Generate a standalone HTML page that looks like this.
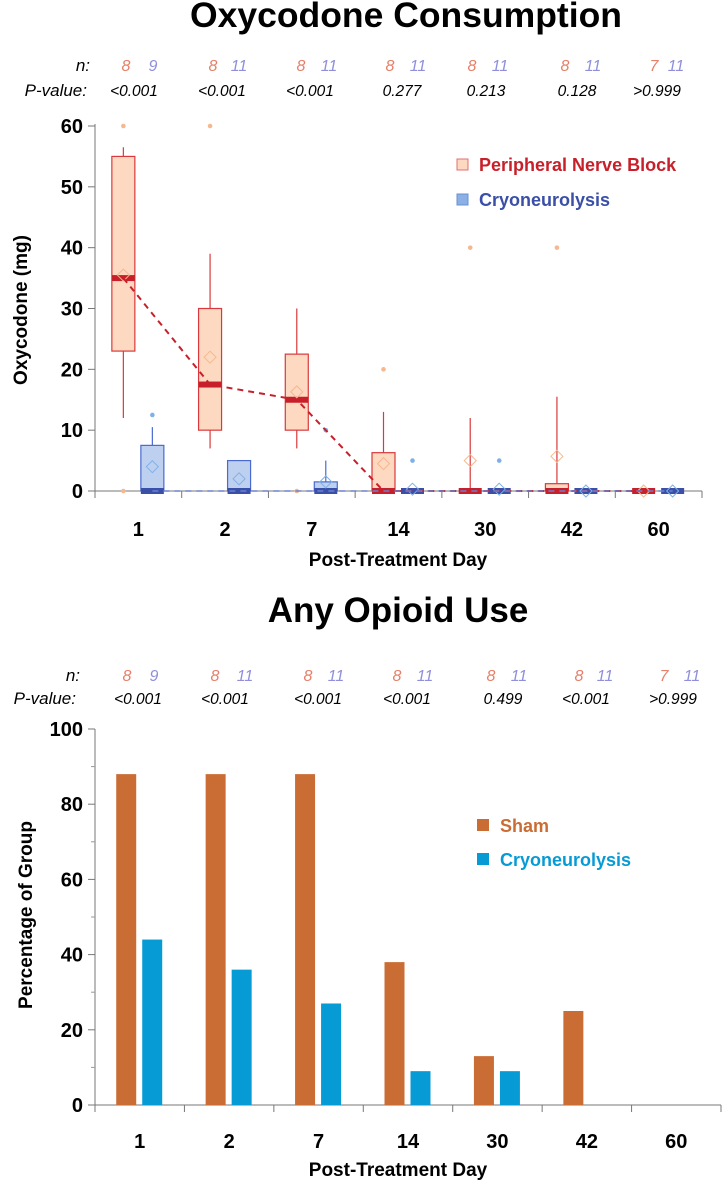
<!DOCTYPE html>
<html><head><meta charset="utf-8"><style>
body{margin:0;background:#fff;}
svg{display:block;font-family:"Liberation Sans",sans-serif;}
</style></head><body>
<svg id="s" width="726" height="1186"></svg>
<script>
const days=["1","2","7","14","30","42","60"];
const nA=["8","8","8","8","8","8","7"];
const nB=["9","11","11","11","11","11","11"];
const pTop=["<0.001","<0.001","<0.001","0.277","0.213","0.128",">0.999"];
const pBot=["<0.001","<0.001","<0.001","<0.001","0.499","<0.001",">0.999"];
// box stats: [min,q1,median,q3,max,mean]
const pnbBox=[[12,23,35,55,56.5,35.5],[7,10,17.5,30,39,22],[7,10,15,22.5,30,16.3],[0,0,0,6.3,13,4.5],[0,0,0,0,12,5],[0,0,0,1.2,15.5,5.7],[0,0,0,0,0,0]];
const cryoBox=[[0,0,0,7.5,10.5,4],[0,0,0,5,5,2],[0,0,0,1.5,5,1.5],[0,0,0,0,0,0.3],[0,0,0,0,0,0.3],[0,0,0,0,0,0],[0,0,0,0,0,0]];
const pnbOut=[[60,0],[60],[0],[20],[40],[40],[]];
const cryoOut=[[12.5],[],[10],[5],[5],[],[]];
const sham=[88,88,88,38,13,25,0];
const cryoPct=[44,36,27,9,9,0,0];
const topTicks=[0,10,20,30,40,50,60];
const botTicks=[0,20,40,60,80,100];

const NS="http://www.w3.org/2000/svg";
const s=document.getElementById('s');
function el(t,a,txt){const e=document.createElementNS(NS,t);for(const k in a)e.setAttribute(k,a[k]);if(txt!=null)e.textContent=txt;s.appendChild(e);return e;}

function header(yN,yP,pv,nRight,pRight,nax,nbx,px){
  let e=el('text',{x:nRight,y:yN,'font-size':17,'font-style':'italic','text-anchor':'end'},'n:');
  
  e=el('text',{x:pRight,y:yP,'font-size':17,'font-style':'italic','text-anchor':'end'},'P-value:');
  
  days.forEach((d,i)=>{
    e=el('text',{x:nax[i],y:yN,'font-size':16,'font-style':'italic',fill:'#e6806a','text-anchor':'middle'},nA[i]);
    
    e=el('text',{x:nbx[i],y:yN,'font-size':16,'font-style':'italic',fill:'#8f8fdc','text-anchor':'middle'},nB[i]);
    
    e=el('text',{x:px[i],y:yP,'font-size':15.5,'font-style':'italic','text-anchor':'middle'},pv[i]);
    
  });
}

// ===== top chart
let e=el('text',{x:406,y:27,'font-size':35.5,'font-weight':'bold','text-anchor':'middle'},'Oxycodone Consumption');

header(71,96,pTop,90,87,[126,213,301,390,472,565,654],[153,239,329,418,500,593,676],[134,222,310,402,486,577,657]);
const tx0=95,tx1=702,tyZero=491,tyTop=126;
const tY=v=>tyZero-(tyZero-tyTop)*v/60;
const tw=(tx1-tx0)/7;
const tX=i=>tx0+tw*(i+0.5);
el('line',{x1:tx0,y1:tyTop-2,x2:tx0,y2:tyZero,stroke:'#777','stroke-width':1});
el('line',{x1:tx0,y1:tyZero,x2:tx1,y2:tyZero,stroke:'#777','stroke-width':1});
topTicks.forEach(v=>{
  el('line',{x1:tx0-7,y1:tY(v),x2:tx0,y2:tY(v),stroke:'#777'});
  e=el('text',{x:tx0-12,y:tY(v)+7,'font-size':20,'font-weight':'bold','text-anchor':'end'},v);
  
});
for(let i=0;i<=7;i++)el('line',{x1:tx0+tw*i,y1:tyZero,x2:tx0+tw*i,y2:tyZero+7,stroke:'#777'});
days.forEach((d,i)=>{e=el('text',{x:tX(i),y:536,'font-size':20,'font-weight':'bold','text-anchor':'middle'},d);
  });
e=el('text',{x:398,y:566,'font-size':19,'font-weight':'bold','text-anchor':'middle'},'Post-Treatment Day');

e=el('text',{x:0,y:0,'font-size':19,'font-weight':'bold','text-anchor':'middle',transform:'translate(27,310) rotate(-90)'},'Oxycodone (mg)');


function box(st,cx,fill,stroke,med,outs,ocol,name){
  const g=el('g',{});
  const add=(t,a)=>{const c=document.createElementNS(NS,t);for(const k in a)c.setAttribute(k,a[k]);g.appendChild(c);};
  const w=23;
  add('line',{x1:cx,y1:tY(st[4]),x2:cx,y2:tY(st[3]),stroke:stroke,'stroke-width':1.2});
  add('line',{x1:cx,y1:tY(st[1]),x2:cx,y2:tY(st[0]),stroke:stroke,'stroke-width':1.2});
  if(st[3]>st[1]) add('rect',{x:cx-w/2,y:tY(st[3]),width:w,height:tY(st[1])-tY(st[3]),fill:fill,stroke:stroke,'stroke-width':1.2});
  add('rect',{x:cx-w/2,y:tY(st[2])-3,width:w,height:6,fill:med});
  const m=tY(st[5]);
  add('path',{d:`M${cx} ${m-6}L${cx+6} ${m}L${cx} ${m+6}L${cx-6} ${m}Z`,fill:'none',stroke:ocol,'stroke-width':1});
  outs.forEach(o=>add('circle',{cx:cx,cy:tY(o),r:2.3,fill:ocol}));
}
days.forEach((d,i)=>{
  box(pnbBox[i],tX(i)-15,'#fcd9c0','#d9393c','#c8202a',pnbOut[i],'#f5b88f','box-pnb-day'+d);
  box(cryoBox[i],tX(i)+14,'#bdd0f0','#4a6ad0','#3a4fa8',cryoOut[i],'#7fb0e8','box-cryo-day'+d);
});
let pts=pnbBox.map((b,i)=>`${tX(i)-15},${tY(b[2])}`).join(' ');
e=el('polyline',{points:pts,fill:'none',stroke:'#c8202a','stroke-width':2,'stroke-dasharray':'6,5'});

pts=cryoBox.map((b,i)=>`${tX(i)+14},${tY(b[2])}`).join(' ');
e=el('polyline',{points:pts,fill:'none',stroke:'#6a80d0','stroke-width':1.5,'stroke-dasharray':'6,5'});

e=el('rect',{x:457,y:159,width:11,height:11,fill:'#fcd9c0',stroke:'#e07070'});
e=el('text',{x:479,y:171,'font-size':18,'font-weight':'bold',fill:'#c8202a'},'Peripheral Nerve Block');
e=el('rect',{x:457,y:194,width:11,height:11,fill:'#8ab0e6',stroke:'#6a90d0'});
e=el('text',{x:479,y:206,'font-size':18,'font-weight':'bold',fill:'#3a4fa8'},'Cryoneurolysis');

// ===== bottom chart
e=el('text',{x:398,y:622,'font-size':35,'font-weight':'bold','text-anchor':'middle'},'Any Opioid Use');

header(681,704,pBot,80,76,[127,215,308,397,491,579,664],[154,245,336,425,519,605,692],[138,225,318,407,503,586,673]);
const bx0=95,bx1=721,byZero=1105,byTop=729;
const bY=v=>byZero-(byZero-byTop)*v/100;
const bw=(bx1-bx0)/7;
const bX=i=>bx0+bw*(i+0.5);
el('line',{x1:bx0,y1:byTop,x2:bx0,y2:byZero,stroke:'#777'});
el('line',{x1:bx0,y1:byZero,x2:bx1,y2:byZero,stroke:'#777'});
for(let v=10;v<100;v+=20)el('line',{x1:bx0-4,y1:bY(v),x2:bx0,y2:bY(v),stroke:'#999'});
botTicks.forEach(v=>{
  el('line',{x1:bx0-7,y1:bY(v),x2:bx0,y2:bY(v),stroke:'#777'});
  e=el('text',{x:bx0-12,y:bY(v)+7,'font-size':20,'font-weight':'bold','text-anchor':'end'},v);
  
});
for(let i=0;i<=7;i++)el('line',{x1:bx0+bw*i,y1:byZero,x2:bx0+bw*i,y2:byZero+7,stroke:'#777'});
days.forEach((d,i)=>{e=el('text',{x:bX(i),y:1148,'font-size':20,'font-weight':'bold','text-anchor':'middle'},d);
  });
e=el('text',{x:398,y:1176,'font-size':19,'font-weight':'bold','text-anchor':'middle'},'Post-Treatment Day');

e=el('text',{x:0,y:0,'font-size':19,'font-weight':'bold','text-anchor':'middle',transform:'translate(32,915) rotate(-90)'},'Percentage of Group');

days.forEach((d,i)=>{
  if(sham[i]>0){e=el('rect',{x:bX(i)-23.5,y:bY(sham[i]),width:20,height:byZero-bY(sham[i]),fill:'#c96d35'});
    }
  if(cryoPct[i]>0){e=el('rect',{x:bX(i)+2.5,y:bY(cryoPct[i]),width:20,height:byZero-bY(cryoPct[i]),fill:'#079bd5'});
    }
});
e=el('rect',{x:477,y:819,width:12,height:12,fill:'#c96d35'});
e=el('text',{x:500,y:832,'font-size':18,'font-weight':'bold',fill:'#c96d35'},'Sham');
e=el('rect',{x:477,y:853,width:12,height:12,fill:'#079bd5'});
e=el('text',{x:500,y:866,'font-size':18,'font-weight':'bold',fill:'#079bd5'},'Cryoneurolysis');
</script>
</body></html>
